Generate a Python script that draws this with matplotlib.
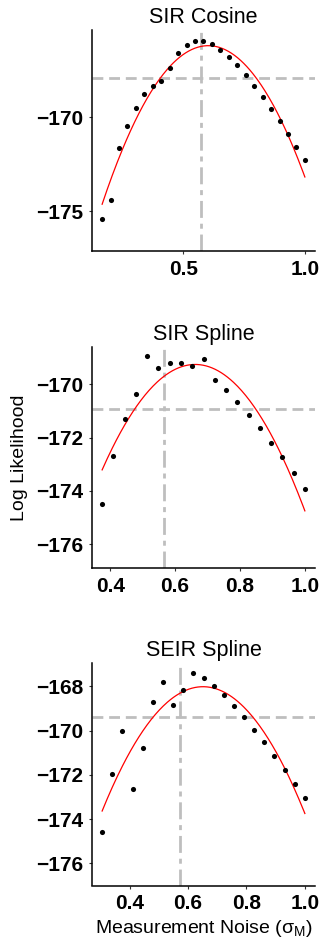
#!/usr/bin/env python3
# Profile likelihood of the measurement noise for three model fits.
# deps: numpy, matplotlib

import numpy as np
import matplotlib
matplotlib.use("Agg")  # headless
import matplotlib.pyplot as plt

plt.rcParams['font.family'] = ['Liberation Sans', 'DejaVu Sans']
plt.rcParams['mathtext.fontset'] = 'custom'
plt.rcParams['mathtext.rm'] = 'Liberation Sans'
plt.rcParams['mathtext.it'] = 'Liberation Sans:italic'

# --- data ---
titles = ["SIR Cosine", "SIR Spline", "SEIR Spline"]

sir_cos_x = [0.1667, 0.2014, 0.2361, 0.2708, 0.3056, 0.3403, 0.3750, 0.4097,
             0.4444, 0.4792, 0.5139, 0.5486, 0.5833, 0.6181, 0.6528, 0.6875,
             0.7222, 0.7569, 0.7917, 0.8264, 0.8611, 0.8958, 0.9306, 0.9653, 1.0]
sir_cos_ll = [-175.42, -174.42, -171.63, -170.47, -169.53, -168.79, -168.35,
              -168.07, -167.40, -166.61, -166.16, -165.95, -165.95, -166.12,
              -166.42, -166.79, -167.26, -167.79, -168.37, -168.95, -169.58,
              -170.21, -170.89, -171.56, -172.25]

sir_spl_x = [0.3750, 0.4097, 0.4444, 0.4792, 0.5139, 0.5486, 0.5833, 0.6181,
             0.6528, 0.6875, 0.7222, 0.7569, 0.7917, 0.8264, 0.8611, 0.8958,
             0.9306, 0.9653, 1.0]
sir_spl_ll = [-174.48, -172.68, -171.29, -170.36, -168.93, -169.39, -169.19,
              -169.19, -169.31, -169.04, -169.84, -170.20, -170.65, -171.15,
              -171.63, -172.19, -172.75, -173.32, -173.92]

seir_spl_x = [0.3056, 0.3403, 0.3750, 0.4097, 0.4444, 0.4792, 0.5139, 0.5486,
              0.5833, 0.6181, 0.6528, 0.6875, 0.7222, 0.7569, 0.7917, 0.8264,
              0.8611, 0.8958, 0.9306, 0.9653, 1.0]
seir_spl_ll = [-174.59, -171.96, -170.02, -172.64, -170.77, -168.71, -167.80,
               -168.84, -168.15, -167.39, -167.62, -167.97, -168.39, -168.89,
               -169.38, -169.97, -170.52, -171.14, -171.77, -172.40, -173.04]

ci_cutoff = [-167.95, -170.93, -169.38]   # horizontal dashed lines
true_sigma = [0.575, 0.566, 0.571]        # vertical dot-dash lines

ylims = [(-177.1, -165.38), (-176.9, -168.6), (-177.0, -166.94)]
yticks = [[-175, -170], [-176, -174, -172, -170], [-176, -174, -172, -170, -168]]
xticks = [[0.5, 1.0], [0.4, 0.6, 0.8, 1.0], [0.4, 0.6, 0.8, 1.0]]

xs = [sir_cos_x, sir_spl_x, seir_spl_x]
lls = [sir_cos_ll, sir_spl_ll, seir_spl_ll]

# --- layout (pixel boxes of the three panels) ---
W, H = 322, 942
fig = plt.figure(figsize=(W / 100, H / 100), dpi=100)
boxes = [(92, 30, 315, 251), (92, 347, 315, 568), (92, 663, 315, 885.5)]

grey = "#BEBEBE"
for i, (x0, y0, x1, y1) in enumerate(boxes):
    ax = fig.add_axes([x0 / W, 1 - y1 / H, (x1 - x0) / W, (y1 - y0) / H])
    x = np.array(xs[i])
    y = np.array(lls[i])

    ax.axhline(ci_cutoff[i], color=grey, lw=2, dashes=(3.9, 2.1), zorder=1)
    ax.axvline(true_sigma[i], color=grey, lw=2, dashes=(6.1, 2.1, 1.8, 2.1), zorder=1)

    # quadratic fit to the profile
    coef = np.polyfit(x, y, 2)
    xf = np.linspace(x.min(), x.max(), 200)
    ax.plot(xf, np.polyval(coef, xf), color="red", lw=0.9, zorder=2)

    ax.plot(x, y, 'o', color="black", markersize=3.7, markeredgewidth=0, zorder=3)

    pad = 0.05 * (x.max() - x.min())
    ax.set_xlim(x.min() - pad, x.max() + pad)
    ax.set_ylim(*ylims[i])
    ax.set_xticks(xticks[i])
    ax.set_xticklabels([f"{t:.1f}" for t in xticks[i]])
    ax.set_yticks(yticks[i])
    ax.set_yticklabels([f"\u2212{abs(t)}" for t in yticks[i]])

    for s in ("top", "right"):
        ax.spines[s].set_visible(False)
    for s in ("left", "bottom"):
        ax.spines[s].set_linewidth(1.1)
    ax.tick_params(length=2.2, width=0.8, color="#333333", pad=4,
                   labelsize=15, labelcolor="black")
    for lab in ax.get_xticklabels() + ax.get_yticklabels():
        lab.set_fontweight("bold")

    ax.set_title(titles[i], fontsize=15.5, pad=5)

    if i == 1:
        ax.set_ylabel("Log Likelihood", fontsize=14)
        ax.yaxis.set_label_coords(-0.285, 0.5)
    if i == 2:
        ax.set_xlabel(r"Measurement Noise ($\mathrm{\sigma_M}$)", fontsize=14)
        ax.xaxis.set_label_coords(0.5, -0.145)

fig.savefig("out.png", dpi=100)
